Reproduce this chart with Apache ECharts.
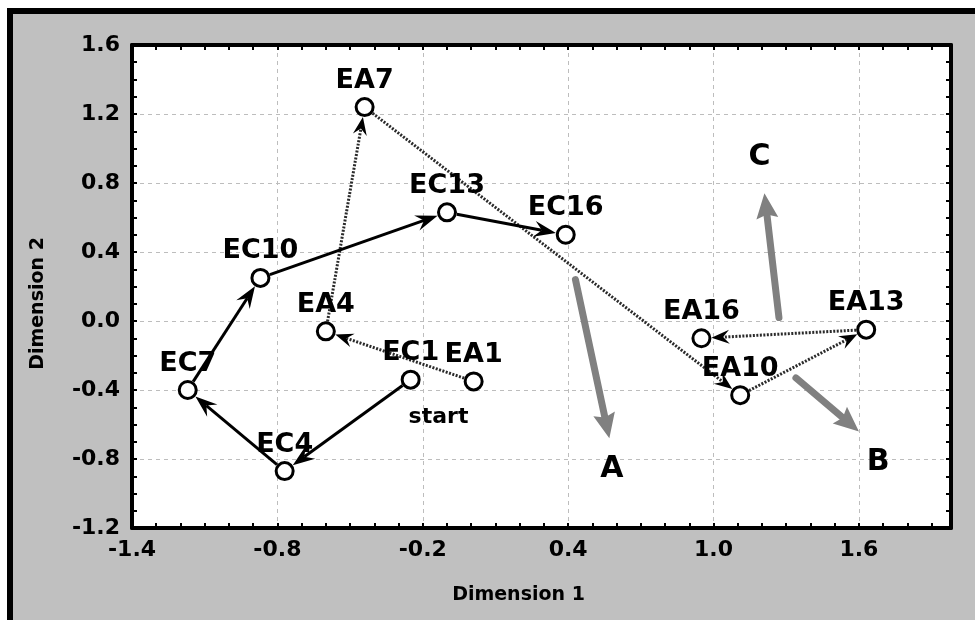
<!DOCTYPE html>
<html>
<head>
<meta charset="utf-8">
<script src="https://cdn.jsdelivr.net/npm/echarts@6/dist/echarts.min.js"></script>
<style>
  body { margin: 0; background: #fff; }
  .frame {
    position: absolute; left: 7px; top: 8px; right: 0; bottom: 0;
    background: #c0c0c0;
    border-left: 6px solid #000; border-top: 6px solid #000;
  }
  #chart { position: absolute; left: 0; top: 0; width: 975px; height: 620px; }
</style>
</head>
<body>
<div class="frame"></div>
<div id="chart"></div>
<script>
// EC trajectory (solid)
const ecNames = ['EC1', 'EC4', 'EC7', 'EC10', 'EC13', 'EC16'];
const ecX = [-0.25, -0.77, -1.17, -0.87, -0.10, 0.39];
const ecY = [-0.34, -0.87, -0.40, 0.25, 0.63, 0.50];

// EA trajectory (dotted)
const eaNames = ['EA1', 'EA4', 'EA7', 'EA10', 'EA13', 'EA16'];
const eaX = [0.01, -0.60, -0.44, 1.11, 1.63, 0.95];
const eaY = [-0.35, -0.06, 1.24, -0.43, -0.05, -0.10];

// grey direction arrows A, B, C
const dirNames = ['A', 'B', 'C'];
const dirFromX = [0.43, 1.34, 1.27];
const dirFromY = [0.24, -0.33, 0.02];
const dirToX = [0.57, 1.60, 1.21];
const dirToY = [-0.68, -0.64, 0.74];
const dirLabelX = [0.58, 1.68, 1.19];
const dirLabelY = [-0.86, -0.82, 0.95];

const startText = ['start'];
const startX = [-0.135];
const startY = [-0.56];

const xMin = -1.4, xMax = 1.98, xStep = 0.6;
const yMin = -1.2, yMax = 1.6, yStep = 0.4;

const FONT = 'DejaVu Sans';

function segments(xs, ys) {
  return xs.slice(1).map((x, i) => [xs[i], ys[i], x, ys[i + 1]]);
}

function arrowRender(o) {
  return function (params, api) {
    const a = api.coord([api.value(0), api.value(1)]);
    const b = api.coord([api.value(2), api.value(3)]);
    const dx = b[0] - a[0], dy = b[1] - a[1];
    const len = Math.sqrt(dx * dx + dy * dy);
    const ux = dx / len, uy = dy / len;
    const nx = -uy, ny = ux;
    const s = [a[0] + ux * o.gap, a[1] + uy * o.gap];
    const tip = [b[0] - ux * o.gap, b[1] - uy * o.gap];
    const back = [tip[0] - ux * o.head, tip[1] - uy * o.head];
    const notch = [tip[0] - ux * o.head * o.notch, tip[1] - uy * o.head * o.notch];
    return {
      type: 'group',
      children: [
        {
          type: 'line',
          shape: { x1: s[0], y1: s[1], x2: notch[0], y2: notch[1] },
          style: { stroke: o.color, lineWidth: o.width, lineDash: o.dash, lineCap: o.cap || 'butt' }
        },
        {
          type: 'polygon',
          shape: { points: [tip, [back[0] + nx * o.hw, back[1] + ny * o.hw], notch, [back[0] - nx * o.hw, back[1] - ny * o.hw]] },
          style: { fill: o.headColor }
        }
      ]
    };
  };
}

function textRender(size) {
  return function (params, api) {
    const p = api.coord([api.value(0), api.value(1)]);
    return {
      type: 'text', x: p[0], y: p[1],
      style: {
        text: api.value(2), fill: '#000', align: 'center', verticalAlign: 'middle',
        font: 'bold ' + size + 'px "' + FONT + '"'
      }
    };
  };
}

const tickAxis = (pos, min, max, showLine) => ({
  type: 'value', position: pos, min: min, max: max, interval: 0.1,
  axisLine: { show: showLine, onZero: false, lineStyle: { color: '#000', width: 4 } },
  axisTick: { show: true, inside: true, length: 5, lineStyle: { color: '#000', width: 2 } },
  axisLabel: { show: false },
  splitLine: { show: false }
});

const chart = echarts.init(document.getElementById('chart'));

chart.setOption({
  animation: false,
  grid: { left: 132, top: 45, right: 24, bottom: 92, show: true, backgroundColor: '#fff', borderWidth: 0 },
  xAxis: [
    {
      type: 'value', position: 'bottom', min: xMin, max: xMax, interval: xStep,
      name: 'Dimension 1', nameLocation: 'middle', nameGap: 58,
      nameTextStyle: { fontFamily: FONT, fontWeight: 'bold', fontSize: 19, color: '#000', padding: [0, 46, 0, 0] },
      axisLine: { onZero: false, lineStyle: { color: '#000', width: 4 } },
      axisTick: { show: false },
      axisLabel: {
        margin: 11, showMaxLabel: false, color: '#000', fontFamily: FONT, fontWeight: 'bold', fontSize: 22,
        formatter: v => v.toFixed(1)
      },
      splitLine: { show: true, lineStyle: { color: '#bdbdbd', type: [4, 4], width: 1 } }
    },
    tickAxis('bottom', xMin, xMax, false),
    tickAxis('top', xMin, xMax, true)
  ],
  yAxis: [
    {
      type: 'value', position: 'left', min: yMin, max: yMax, interval: yStep,
      name: 'Dimension 2', nameLocation: 'middle', nameGap: 84,
      nameTextStyle: { fontFamily: FONT, fontWeight: 'bold', fontSize: 19, color: '#000', padding: [0, 34, 0, 0] },
      axisLine: { onZero: false, lineStyle: { color: '#000', width: 4 } },
      axisTick: { show: false },
      axisLabel: {
        margin: 12, color: '#000', fontFamily: FONT, fontWeight: 'bold', fontSize: 22,
        formatter: v => v.toFixed(1)
      },
      splitLine: { show: true, lineStyle: { color: '#bdbdbd', type: [4, 4], width: 1 } }
    },
    tickAxis('left', yMin, yMax, false),
    tickAxis('right', yMin, yMax, true)
  ],
  series: [
    {
      type: 'custom', name: 'EA path', z: 2, clip: false,
      renderItem: arrowRender({ gap: 10, head: 18, hw: 7, notch: 0.65, width: 3, color: '#2a2a2a', dash: [2, 1.5], headColor: '#000' }),
      data: segments(eaX, eaY)
    },
    {
      type: 'custom', name: 'EC path', z: 3, clip: false,
      renderItem: arrowRender({ gap: 10, head: 22, hw: 8, notch: 0.65, width: 3, color: '#000', headColor: '#000' }),
      data: segments(ecX, ecY)
    },
    {
      type: 'custom', name: 'directions', z: 2, clip: false,
      renderItem: arrowRender({ gap: 0, head: 25, hw: 11, notch: 0.85, width: 7, color: '#808080', headColor: '#808080', cap: 'round' }),
      data: dirFromX.map((x, i) => [x, dirFromY[i], dirToX[i], dirToY[i]])
    },
    {
      type: 'scatter', name: 'EC', z: 5,
      symbol: 'circle', symbolSize: 17,
      itemStyle: { color: '#fff', borderColor: '#000', borderWidth: 3, opacity: 1 },
      label: {
        show: true, position: 'top', distance: 3, color: '#000',
        fontFamily: FONT, fontWeight: 'bold', fontSize: 27,
        formatter: p => p.data[2]
      },
      data: ecX.map((x, i) => [x, ecY[i], ecNames[i]])
    },
    {
      type: 'scatter', name: 'EA', z: 5,
      symbol: 'circle', symbolSize: 17,
      itemStyle: { color: '#fff', borderColor: '#000', borderWidth: 3, opacity: 1 },
      label: {
        show: true, position: 'top', distance: 3, color: '#000',
        fontFamily: FONT, fontWeight: 'bold', fontSize: 27,
        formatter: p => p.data[2]
      },
      data: eaX.map((x, i) => [x, eaY[i], eaNames[i]])
    },
    {
      type: 'custom', name: 'dir labels', z: 6, clip: false,
      renderItem: textRender(30),
      data: dirLabelX.map((x, i) => [x, dirLabelY[i], dirNames[i]])
    },
    {
      type: 'custom', name: 'start', z: 6, clip: false,
      renderItem: textRender(22),
      data: startX.map((x, i) => [x, startY[i], startText[i]])
    }
  ]
});
</script>
</body>
</html>
